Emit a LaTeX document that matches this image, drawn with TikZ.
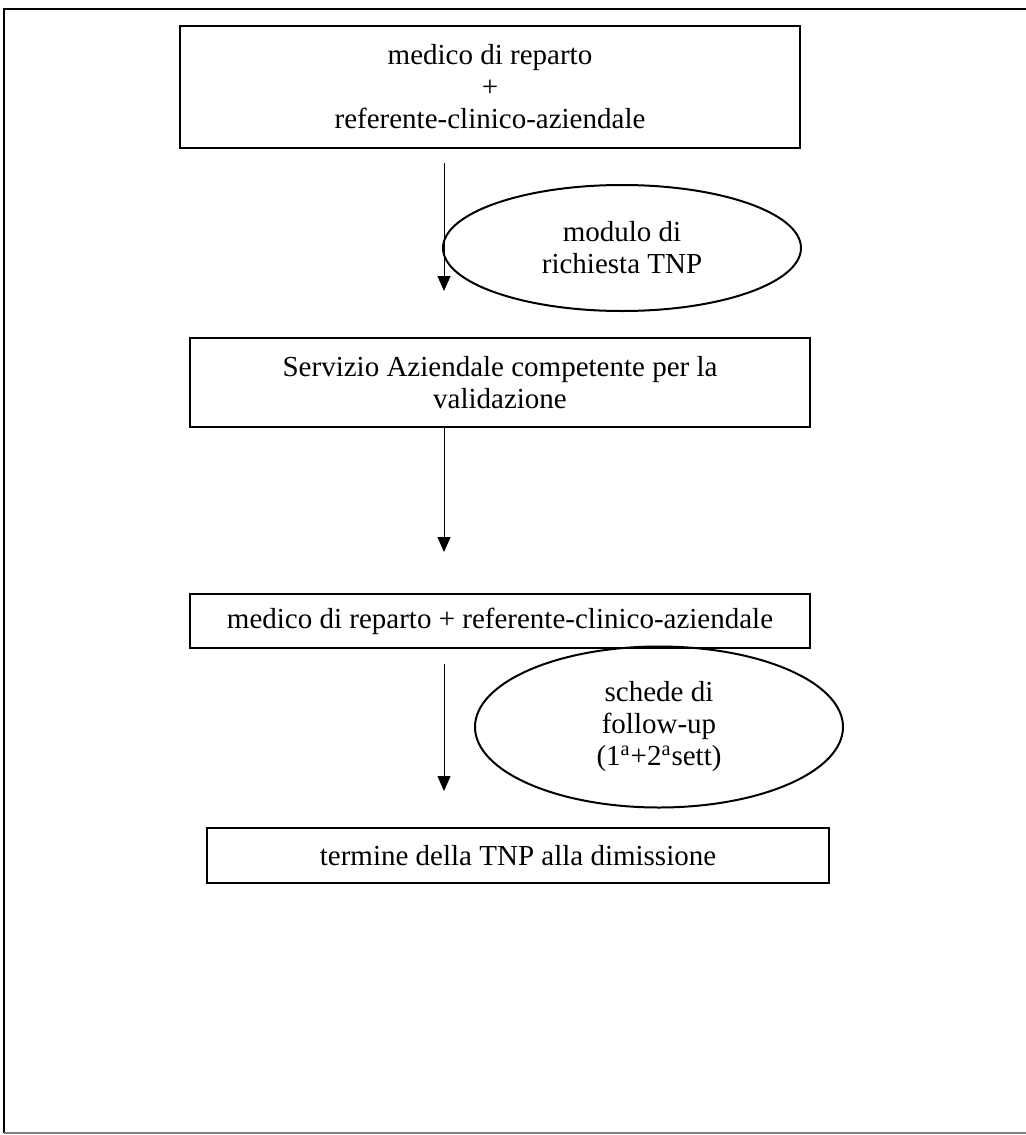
\documentclass[tikz,border=0pt]{standalone}
\usepackage{fontspec}
\setmainfont{Liberation Serif}
\usepackage{tikz}
\usetikzlibrary{arrows.meta,shapes.geometric}

\begin{document}
\begin{tikzpicture}[x={(0.5pt,0pt)}, y={(0pt,-0.5pt)},
        every node/.style={font=\fontsize{14.5pt}{16pt}\selectfont, align=center},
        box/.style={draw, line width=1pt, inner sep=0pt},
        bubble/.style={draw, ellipse, line width=1pt, inner sep=0pt},
        flow/.style={-{Triangle[length=7.5pt,width=6.5pt]}, line width=0.5pt}]
        \useasboundingbox (0,0) rectangle (1026,1135);
        % --- Outer frame (right edge cut off) ---
        \draw[line width=1pt] (1026,9) -- (4,9) -- (4,1133);
        \draw[line width=0.7pt, gray] (4,1133) -- (1026,1133);
        % --- Steps ---
        \node[box, minimum width=310pt, minimum height=61pt] (medico) at (490,87)
            {medico di reparto\\+\\referente-clinico-aziendale};
        \node[box, minimum width=310pt, minimum height=44.5pt] (servizio) at (500,382.5)
            {Servizio Aziendale competente per la\\validazione};
        \node[box, minimum width=310pt, minimum height=27pt] (coppia) at (500,621)
            {medico di reparto + referente-clinico-aziendale};
        \node[box, minimum width=311pt, minimum height=27.5pt] (termine) at (518,855.5)
            {termine della TNP alla dimissione};
        % --- Documents ---
        \node[bubble, minimum width=179pt, minimum height=63pt] (modulo) at (622,248)
            {modulo di\\richiesta TNP};
        \node[bubble, minimum width=184pt, minimum height=80.5pt] (schede) at (659,727)
            {schede di\\follow-up\\(1\textsuperscript{a}+2\textsuperscript{a}sett)};
        % --- Arrows ---
        \coordinate (spine) at (444,0);
        \draw[flow, shorten <=7pt, shorten >=23pt] (medico.south -| spine) -- (servizio.north -| spine);
        \draw[flow, shorten >=20.5pt] (servizio.south -| spine) -- (coppia.north -| spine);
        \draw[flow, shorten <=7.5pt, shorten >=18pt] (coppia.south -| spine) -- (termine.north -| spine);
    \end{tikzpicture}
\end{document}
